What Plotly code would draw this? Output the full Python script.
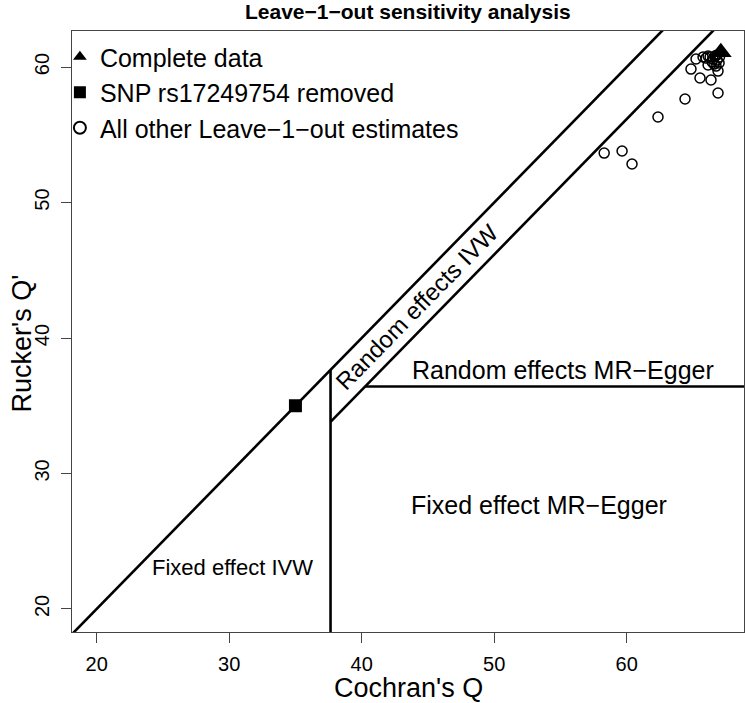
import plotly.graph_objects as go

# ---------------- data ----------------
cochran_q_others = [58.30, 59.65, 60.40, 62.36, 64.40, 66.89, 65.53, 66.36, 64.85,
                    65.23, 65.76, 66.14, 66.89, 66.51, 66.29, 65.99, 66.59, 66.74,
                    66.82, 67.00, 66.44, 66.97, 66.66, 66.14, 66.82]
rucker_q_others = [53.65, 53.80, 52.84, 56.31, 57.64, 58.08, 59.19, 59.04, 59.85,
                   60.59, 60.74, 60.15, 59.70, 60.59, 60.74, 60.66, 60.22, 60.07,
                   60.52, 60.74, 60.37, 60.30, 60.81, 60.81, 60.89]
complete_q = [67.1]
complete_qr = [61.1]
removed_q = [35.0]
removed_qr = [35.0]

crit_q = 37.65      # Cochran's Q critical value
crit_qr = 36.42     # Rucker's Q' critical value
crit_diff = 3.84    # Q - Q' critical value

x_range = [18.14, 68.85]
y_range = [18.30, 62.66]
x_ticks = [20, 30, 40, 50, 60]
y_ticks = [20, 30, 40, 50, 60]

FONT = "Liberation Sans, Arial, Helvetica, sans-serif"
LINE = dict(color="black", width=2.6)

fig = go.Figure()

# region boundaries
fig.add_trace(go.Scatter(x=[10, 80], y=[10, 80], mode="lines", line=LINE,
                         showlegend=False, hoverinfo="skip"))
fig.add_trace(go.Scatter(x=[crit_q, crit_q], y=[10, crit_q], mode="lines", line=LINE,
                         showlegend=False, hoverinfo="skip"))
fig.add_trace(go.Scatter(x=[crit_q, 80], y=[crit_q - crit_diff, 80 - crit_diff],
                         mode="lines", line=LINE, showlegend=False, hoverinfo="skip"))
fig.add_trace(go.Scatter(x=[crit_qr + crit_diff, 80], y=[crit_qr, crit_qr],
                         mode="lines", line=LINE, showlegend=False, hoverinfo="skip"))

# points
fig.add_trace(go.Scatter(x=complete_q, y=complete_qr, mode="markers",
                         name="Complete data",
                         marker=dict(symbol="triangle-up", size=19, color="black")))
fig.add_trace(go.Scatter(x=removed_q, y=removed_qr, mode="markers",
                         name="SNP rs17249754 removed",
                         marker=dict(symbol="square", size=13, color="black")))
fig.add_trace(go.Scatter(x=cochran_q_others, y=rucker_q_others, mode="markers",
                         name="All other Leave\u22121\u2212out estimates",
                         marker=dict(symbol="circle-open", size=10, color="black",
                                     line=dict(width=1.5, color="black"))))

axis_common = dict(showgrid=False, zeroline=False, showline=True, mirror=True,
                   linecolor="#444", linewidth=1.2, ticks="outside", ticklen=10,
                   tickwidth=1.2, tickcolor="#444", automargin=False,
                   tickfont=dict(family=FONT, size=20, color="black"))

fig.update_xaxes(range=x_range, tickvals=x_ticks, ticklabelstandoff=4, **axis_common)
fig.update_yaxes(range=y_range, tickvals=y_ticks, tickangle=-90, ticklabelstandoff=4,
                 **axis_common)

ann = []
ann.append(dict(text="<b>Leave\u22121\u2212out sensitivity analysis</b>", x=0.5, y=1.032,
                xref="paper", yref="paper", showarrow=False, yanchor="middle",
                font=dict(family=FONT, size=21, color="black")))
ann.append(dict(text="Cochran's Q", x=0.5, y=-0.093, xref="paper", yref="paper",
                showarrow=False, yanchor="middle",
                font=dict(family=FONT, size=27, color="black")))
ann.append(dict(text="Rucker's Q'", x=-0.0744, y=0.48, xref="paper", yref="paper",
                showarrow=False, textangle=-90, xanchor="center", yanchor="middle",
                font=dict(family=FONT, size=27, color="black")))
ann.append(dict(text="Random effects IVW", x=44.2, y=42.3, xref="x", yref="y",
                showarrow=False, textangle=-45.6,
                font=dict(family=FONT, size=24, color="black")))
ann.append(dict(text="Random effects MR\u2212Egger", x=55.2, y=37.64, xref="x", yref="y",
                showarrow=False, font=dict(family=FONT, size=25, color="black")))
ann.append(dict(text="Fixed effect MR\u2212Egger", x=53.4, y=27.68, xref="x", yref="y",
                showarrow=False, font=dict(family=FONT, size=25, color="black")))
ann.append(dict(text="Fixed effect IVW", x=30.24, y=23.03, xref="x", yref="y",
                showarrow=False, font=dict(family=FONT, size=22, color="black")))

fig.update_layout(
    width=745, height=703,
    margin=dict(l=72, r=1, t=31, b=71, autoexpand=False),
    paper_bgcolor="white", plot_bgcolor="white",
    font=dict(family=FONT, color="black"),
    annotations=ann,
    showlegend=True,
    legend=dict(x=-0.018, y=0.995, xanchor="left", yanchor="top",
                bgcolor="rgba(0,0,0,0)", borderwidth=0,
                font=dict(family=FONT, size=25, color="black"),
                itemsizing="constant", tracegroupgap=0),
)

fig.write_html("out.html", config={"displayModeBar": False},
               post_script="document.body.style.margin='0px';document.body.style.overflow='hidden';")
